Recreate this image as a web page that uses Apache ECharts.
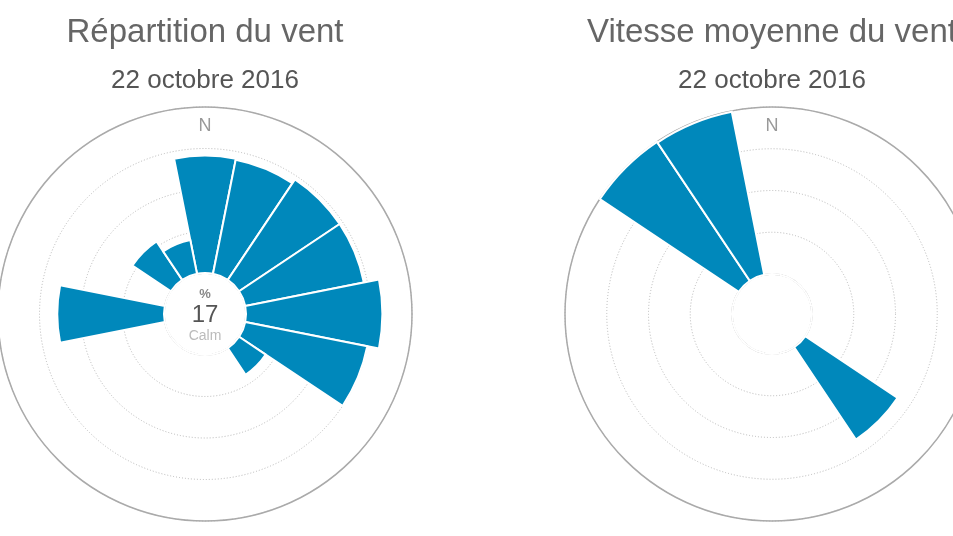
<!DOCTYPE html>
<html>
<head>
<meta charset="utf-8">
<script src="https://cdn.jsdelivr.net/npm/echarts@6/dist/echarts.min.js"></script>
<style>
html,body{margin:0;padding:0;background:#fff;}
#chart{width:953px;height:536px;}
</style>
</head>
<body>
<div id="chart"></div>
<script>
// Directions (16-point compass)
var directions = ['N','NNE','NE','ENE','E','ESE','SE','SSE','S','SSW','SW','WSW','W','WNW','NW','NNW'];
// Left: wind distribution (%)
var repartitionValues = [9.9, 9.8, 10.2, 10.2, 11.5, 10.5, 2.7, 0, 0, 0, 0, 0, 9.0, 0, 3.9, 2.9];
var repartitionTicks = [0, 3.5, 7, 10.5, 14];
var calmValue = 17;
// Right: mean wind speed
var vitesseValues = [0, 0, 0, 0, 0, 0, 13.3, 0, 0, 0, 0, 0, 0, 0, 20, 19.9];
var vitesseTicks = [0, 5, 10, 15, 20];

var titles = ['Répartition du vent', 'Vitesse moyenne du vent'];
var subtitles = ['22 octobre 2016', '22 octobre 2016'];
var calmLabels = ['%', 'Calm'];

var FONT = 'Liberation Sans, Arial, sans-serif';
var BAR_COLOR = '#0088bb';
var centers = [[205, 314], [772, 314]];

function angleAxis(polarIndex, showLine, lineColor, width) {
  return {
    polarIndex: polarIndex,
    type: 'category',
    data: directions,
    startAngle: 90 + 360 / directions.length / 2,
    clockwise: true,
    boundaryGap: true,
    axisLine: {show: showLine, lineStyle: {color: lineColor, width: width}},
    axisTick: {show: false},
    splitLine: {show: false},
    axisLabel: {
      show: polarIndex < 2,
      margin: -28,
      color: '#999',
      fontSize: 18,
      fontFamily: FONT,
      formatter: function (v) { return v === 'N' ? 'N' : ''; }
    },
    z: 1
  };
}
function radiusAxis(polarIndex, ticks) {
  return {
    polarIndex: polarIndex,
    type: 'value',
    min: ticks ? ticks[0] : 0,
    max: ticks ? ticks[ticks.length - 1] : 1,
    interval: ticks ? ticks[1] - ticks[0] : 1,
    axisLine: {show: false},
    axisTick: {show: false},
    axisLabel: {show: false},
    splitLine: {show: !!ticks, lineStyle: {color: '#b8b8b8', type: [1, 2], width: 1}}
  };
}

var option = {
  animation: false,
  backgroundColor: '#fff',
  title: [
    {text: titles[0], left: centers[0][0] - 5, top: 11, textAlign: 'center',
     textStyle: {fontSize: 33, fontWeight: 'normal', color: '#666', fontFamily: FONT}},
    {text: subtitles[0], left: centers[0][0] - 5, top: 63, textAlign: 'center',
     textStyle: {fontSize: 26, fontWeight: 'normal', color: '#555', fontFamily: FONT}},
    {text: titles[1], left: centers[1][0] - 5, top: 11, textAlign: 'center',
     textStyle: {fontSize: 33, fontWeight: 'normal', color: '#666', fontFamily: FONT}},
    {text: subtitles[1], left: centers[1][0] - 5, top: 63, textAlign: 'center',
     textStyle: {fontSize: 26, fontWeight: 'normal', color: '#555', fontFamily: FONT}},
    {text: '{a|' + calmLabels[0] + '}\n{b|' + calmValue + '}\n{c|' + calmLabels[1] + '}',
     left: centers[0][0] - 5, top: 281, textAlign: 'center',
     textStyle: {
       rich: {
         a: {fontSize: 13, fontWeight: 'bold', color: '#888', fontFamily: FONT, lineHeight: 17, align: 'center'},
         b: {fontSize: 24, fontWeight: 'normal', color: '#555', fontFamily: FONT, lineHeight: 24, align: 'center'},
         c: {fontSize: 14, fontWeight: 'normal', color: '#bbb', fontFamily: FONT, lineHeight: 19, align: 'center'}
       }
     }}
  ],
  polar: [
    {center: centers[0], radius: [41, 207]},
    {center: centers[1], radius: [40, 207]},
    {center: centers[0], radius: [0, 41]},
    {center: centers[1], radius: [0, 40]}
  ],
  angleAxis: [
    angleAxis(0, true, '#aaa', 1.5),
    angleAxis(1, true, '#aaa', 1.5),
    angleAxis(2, true, '#c8c8c8', 1.3),
    angleAxis(3, true, '#c8c8c8', 1.3)
  ],
  radiusAxis: [
    radiusAxis(0, repartitionTicks),
    radiusAxis(1, vitesseTicks),
    radiusAxis(2, null),
    radiusAxis(3, null)
  ],
  series: [
    {type: 'bar', coordinateSystem: 'polar', polarIndex: 0, data: repartitionValues,
     barCategoryGap: '0%', itemStyle: {color: BAR_COLOR, borderColor: '#fff', borderWidth: 2}, z: 3},
    {type: 'bar', coordinateSystem: 'polar', polarIndex: 1, data: vitesseValues,
     barCategoryGap: '0%', itemStyle: {color: BAR_COLOR, borderColor: '#fff', borderWidth: 2}, z: 3}
  ]
};

var chart = echarts.init(document.getElementById('chart'), null, {renderer: 'canvas'});
chart.setOption(option);
</script>
</body>
</html>
